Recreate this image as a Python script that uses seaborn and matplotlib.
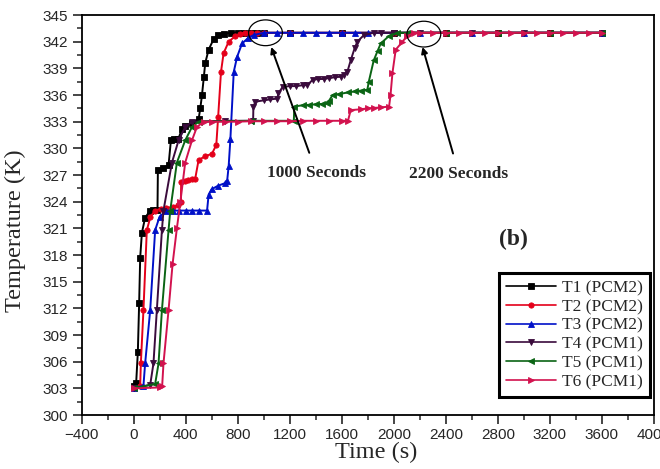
import matplotlib
matplotlib.use("Agg")
import matplotlib.pyplot as plt
from matplotlib.lines import Line2D
from matplotlib.patches import Ellipse
import pandas as pd
import seaborn as sns

# ---- measured temperature histories (time in s, temperature in K) ----
t1_time = [0, 20, 33, 43, 51, 64, 89, 128, 150, 184, 187, 230, 269, 287, 310, 343, 372, 397,
           450, 500, 513, 526, 540, 551, 577, 616, 650, 692, 750, 800, 850, 900, 950, 1000,
           1200, 1600, 2000, 2400, 2800, 3200, 3600]
t1_temp = [303.3, 303.6, 307.1, 312.6, 317.7, 320.5, 322.2, 323.0, 323.1, 323.1, 327.6, 327.8,
           328.1, 330.9, 331.0, 331.0, 332.2, 332.5, 332.9, 333.3, 334.5, 336.0, 338.0, 339.6,
           341.1, 342.3, 342.7, 342.9, 343.0, 343.0, 343.0, 343.0, 343.0, 343.0, 343.0, 343.0,
           343.0, 343.0, 343.0, 343.0, 343.0]

t2_time = [0, 51, 56, 76, 102, 130, 166, 210, 250, 300, 340, 364, 366, 395, 420, 450, 474, 500,
           550, 603, 636, 650, 672, 692, 731, 780, 821, 860, 900, 950, 1000, 1200, 1600, 2000,
           2400, 2800, 3200, 3600]
t2_temp = [303.0, 303.3, 305.8, 311.8, 320.8, 322.3, 323.0, 323.2, 323.3, 323.4, 323.6, 324.0,
           326.2, 326.3, 326.4, 326.5, 326.6, 328.7, 329.1, 329.4, 330.4, 333.5, 338.6, 340.7,
           342.0, 342.6, 342.9, 343.0, 343.0, 343.0, 343.0, 343.0, 343.0, 343.0, 343.0, 343.0,
           343.0, 343.0]

t3_time = [0, 76, 89, 128, 166, 200, 250, 300, 350, 400, 450, 500, 565, 577, 600, 650, 706, 719,
           731, 744, 770, 796, 834, 880, 924, 1000, 1100, 1200, 1300, 1400, 1500, 1600, 1700,
           1800, 2200, 2600, 3000, 3600]
t3_temp = [303.0, 303.3, 305.8, 311.8, 320.8, 322.3, 323.0, 323.0, 323.0, 323.0, 323.0, 323.0,
           323.0, 324.8, 325.4, 325.8, 326.1, 326.3, 328.0, 331.0, 338.6, 340.3, 341.8, 342.4,
           342.75, 343.0, 343.0, 343.0, 343.0, 343.0, 343.0, 343.0, 343.0, 343.0, 343.0, 343.0,
           343.0, 343.0]

t4_time = [0, 128, 153, 179, 218, 230, 295, 346, 397, 449, 700, 919, 921, 937, 1000, 1050,
           1104, 1114, 1145, 1200, 1250, 1300, 1335, 1376, 1420, 1460, 1500, 1550, 1592, 1615,
           1643, 1669, 1700, 1720, 1771, 1846, 1900, 2000, 2200, 2600, 3000, 3600]
t4_temp = [303.0, 303.4, 305.8, 311.8, 320.8, 323.0, 328.4, 330.9, 332.4, 333.0, 333.1, 333.1,
           334.7, 335.25, 335.4, 335.5, 335.6, 336.2, 336.9, 337.0, 337.0, 337.1, 337.1, 337.7,
           337.8, 337.8, 337.9, 338.0, 338.06, 338.3, 338.6, 339.9, 341.3, 342.0, 342.75, 343.0,
           343.0, 343.0, 343.0, 343.0, 343.0, 343.0]

t5_time = [0, 166, 192, 218, 269, 282, 333, 397, 449, 500, 900, 1232, 1235, 1300, 1350, 1400,
           1450, 1489, 1500, 1530, 1580, 1650, 1700, 1750, 1797, 1808, 1846, 1877, 1900, 1960,
           2028, 2100, 2400, 2800, 3200, 3600]
t5_temp = [303.0, 303.5, 305.8, 311.8, 320.8, 323.0, 328.4, 330.9, 332.4, 333.0, 333.1, 333.1,
           334.7, 334.85, 334.9, 334.95, 335.0, 335.07, 335.3, 336.0, 336.1, 336.3, 336.4, 336.5,
           336.6, 337.5, 339.9, 341.0, 341.8, 342.6, 343.0, 343.0, 343.0, 343.0, 343.0, 343.0]

t6_time = [0, 200, 220, 230, 269, 300, 333, 360, 397, 449, 487, 538, 600, 700, 800, 900, 1000,
           1100, 1200, 1300, 1400, 1500, 1600, 1648, 1669, 1750, 1800, 1850, 1900, 1964, 1975,
           1990, 2015, 2067, 2100, 2156, 2200, 2300, 2400, 2500, 2600, 2700, 2800, 2900, 3000,
           3100, 3200, 3300, 3400, 3500, 3600]
t6_temp = [303.0, 303.1, 303.3, 305.8, 311.8, 317.0, 321.0, 324.0, 328.4, 330.9, 332.4, 333.0,
           333.0, 333.0, 333.0, 333.05, 333.05, 333.05, 333.05, 333.1, 333.1, 333.1, 333.1,
           333.1, 334.3, 334.4, 334.5, 334.55, 334.6, 334.7, 336.0, 338.5, 341.1, 342.0, 342.6,
           343.0, 343.0, 343.0, 343.0, 343.0, 343.0, 343.0, 343.0, 343.0, 343.0, 343.0, 343.0,
           343.0, 343.0, 343.0, 343.0]

series_names = ["T1 (PCM2)", "T2 (PCM2)", "T3 (PCM2)", "T4 (PCM1)", "T5 (PCM1)", "T6 (PCM1)"]
series_time = [t1_time, t2_time, t3_time, t4_time, t5_time, t6_time]
series_temp = [t1_temp, t2_temp, t3_temp, t4_temp, t5_temp, t6_temp]

# ---- annotations ----
ring_times = [1014, 2231]
ring_temps = [343.0, 342.85]
note_labels = ["1000 Seconds", "2200 Seconds"]
note_times = [1407, 2501]
note_temps = [327.2, 327.1]
arrow_tip_times = [1058, 2221]
arrow_tip_temps = [341.4, 341.4]

x_ticks = list(range(-400, 4001, 400))
y_ticks = list(range(300, 346, 3))

# ---- styling ----
colors = ["#000000", "#e4001a", "#0010c8", "#3a0b3c", "#0a6414", "#d2124e"]
marker_shapes = ["s", "o", "^", "v", "<", ">"]
palette = dict(zip(series_names, colors))
markers = dict(zip(series_names, marker_shapes))

frames = []
for name, tt, yy in zip(series_names, series_time, series_temp):
    frames.append(pd.DataFrame({"time": tt, "temp": yy, "series": name}))
df = pd.concat(frames, ignore_index=True)

sns.set_style("ticks")
serif = ["Liberation Serif", "DejaVu Serif"]
sans = ["Liberation Sans", "DejaVu Sans"]
plt.rcParams["font.family"] = sans

fig = plt.figure(figsize=(6.6, 4.69), dpi=100)
ax = fig.add_axes([0.1235, 0.1151, 0.8674, 0.8529])

sns.lineplot(data=df, x="time", y="temp", hue="series", style="series",
             hue_order=series_names, style_order=series_names,
             palette=palette, markers=markers, dashes=False,
             estimator=None, sort=False, legend=False,
             linewidth=1.4, markersize=3.8, markeredgecolor=None,
             markeredgewidth=0.6, ax=ax)

ax.set_xlim(-400, 4000)
ax.set_ylim(300, 345)
ax.set_xticks(x_ticks)
ax.set_yticks(y_ticks)
ax.set_xticks([v + 200 for v in x_ticks[:-1]], minor=True)
ax.set_yticks([v + 1.5 for v in y_ticks[:-1]], minor=True)
ax.tick_params(which="major", direction="out", length=6.5, width=1.2, labelsize=11,
               pad=3, top=False, right=False)
ax.tick_params(which="minor", direction="out", length=3.5, width=1.1,
               top=False, right=False)
for lab in ax.get_xticklabels() + ax.get_yticklabels():
    lab.set_family(sans)
for sp in ax.spines.values():
    sp.set_linewidth(1.3)
    sp.set_color("black")

ax.set_xlabel("Time (s)", family=serif, fontsize=17.5)
ax.set_ylabel("Temperature (K)", family=serif, fontsize=17.5)
ax.xaxis.set_label_coords(0.514, -0.068)
ax.yaxis.set_label_coords(-0.097, 0.46)

# highlighted regions where the sensors reach the final temperature
for cx, cy in zip(ring_times, ring_temps):
    ax.add_patch(Ellipse((cx, cy), width=260, height=2.9, fill=False,
                         edgecolor="black", linewidth=0.9, zorder=5))

for lab, tx, ty, ax_t, ay_t in zip(note_labels, note_times, note_temps,
                                    arrow_tip_times, arrow_tip_temps):
    ax.annotate(lab, xy=(ax_t, ay_t), xytext=(tx, ty), textcoords="data",
                ha="center", va="center", family=serif, fontweight="bold",
                fontsize=12.5, zorder=6,
                arrowprops=dict(arrowstyle="-|>", color="black", lw=1.4,
                                mutation_scale=9, shrinkA=7, shrinkB=0))

ax.text(2916, 319.7, "(b)", family=serif, fontweight="bold", fontsize=17,
        ha="center", va="center")

handles = [Line2D([0], [0], color=c, marker=m, markersize=3.8, linewidth=1.2,
                  markeredgewidth=0.6)
           for c, m in zip(colors, marker_shapes)]
leg = ax.legend(handles, series_names, loc="lower right",
                bbox_to_anchor=(0.993, 0.045), borderaxespad=0,
                prop={"family": serif, "size": 12.5},
                frameon=True, fancybox=False, framealpha=1,
                edgecolor="black", handlelength=2.9, handletextpad=0.35,
                labelspacing=0.15, borderpad=0.4, numpoints=1)
leg.get_frame().set_linewidth(2.2)

fig.savefig("out.png", dpi=100)
